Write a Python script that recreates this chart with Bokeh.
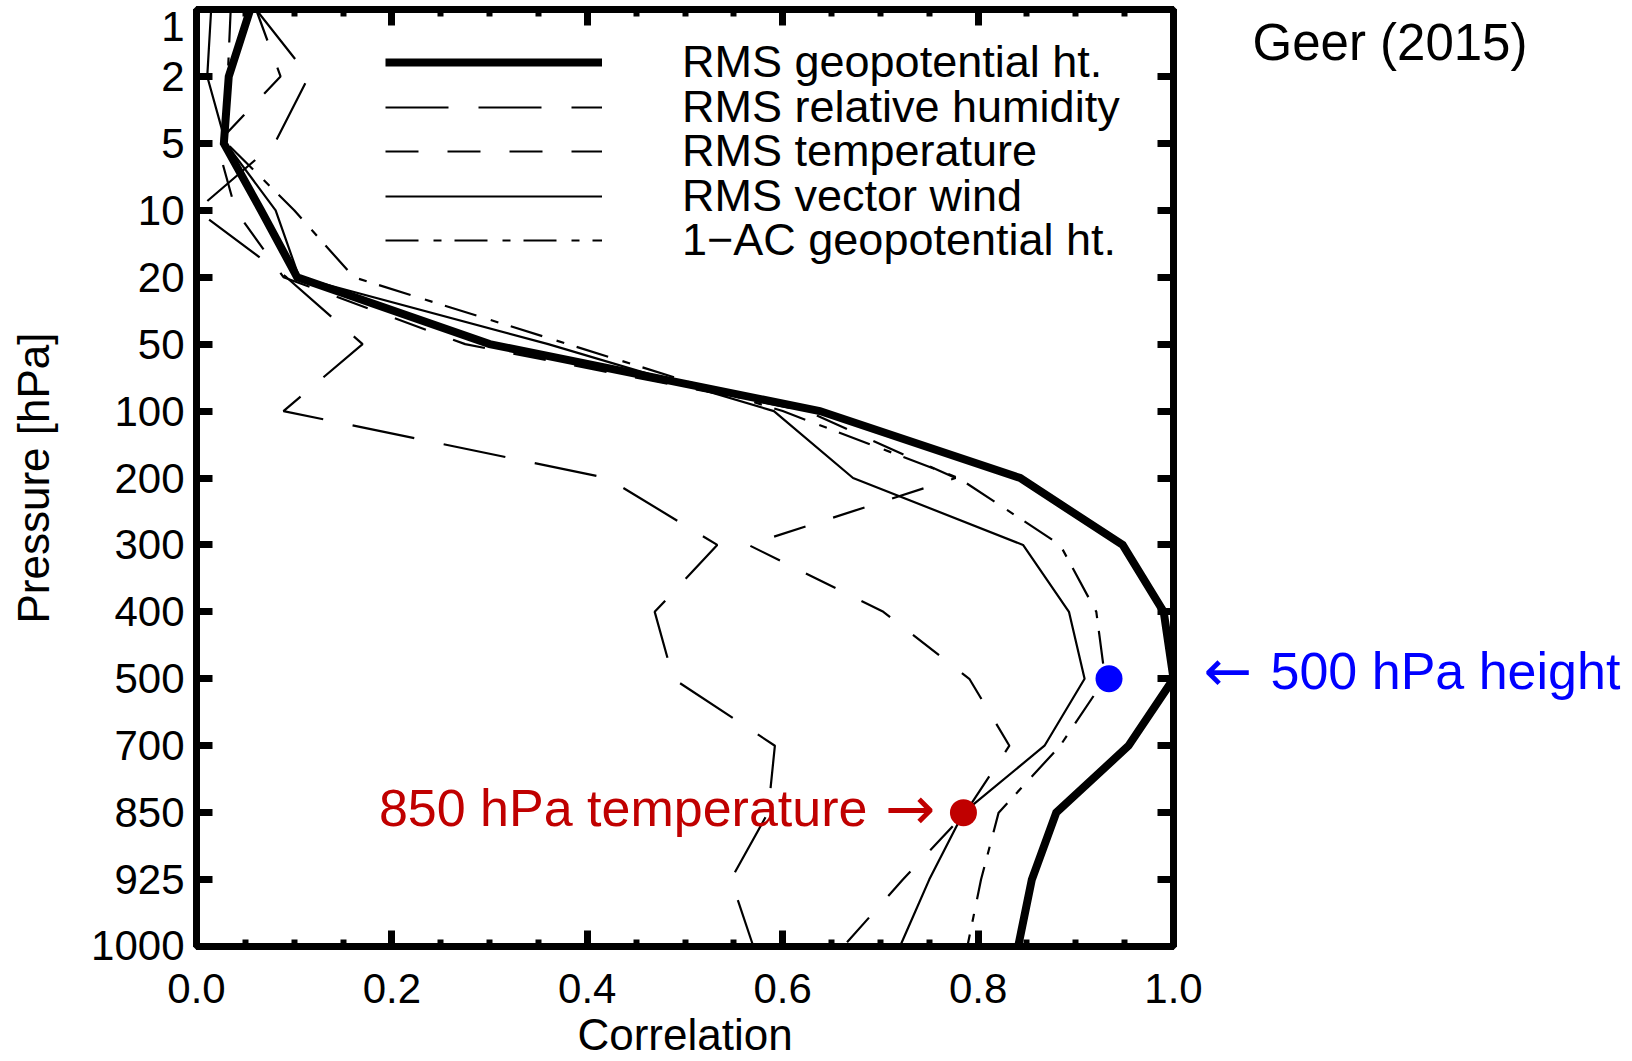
from bokeh.plotting import figure
from bokeh.layouts import row
from bokeh.models import (Range1d, LinearAxis, FixedTicker, SingleIntervalTicker,
                          NumeralTickFormatter, CustomJSTickFormatter, Legend,
                          LegendItem, Label)
from bokeh.core.properties import value
from bokeh.embed import file_html
from bokeh.resources import INLINE

# ---------------- data ----------------
levels = [1, 2, 5, 10, 20, 50, 100, 200, 300, 400, 500, 700, 850, 925, 1000]
level_labels = ["\n1", "2", "5", "10", "20", "50", "100", "200", "300", "400",
                "500", "700", "850", "925", "1000\n"]

rms_geopotential = [0.055, 0.033, 0.028, 0.066, 0.103, 0.300, 0.638, 0.843,
                    0.948, 0.990, 1.000, 0.954, 0.880, 0.855, 0.841]
rms_humidity = [0.061, 0.115, 0.080, 0.000, 0.092, 0.170, 0.089, 0.420,
                0.533, 0.469, 0.488, 0.592, 0.585, 0.547, 0.570]
rms_temperature = [0.061, 0.086, 0.021, 0.040, 0.089, 0.275, 0.625, 0.777,
                   0.565, 0.703, 0.791, 0.832, 0.787, 0.723, 0.662]
rms_vector_wind = [0.015, 0.011, 0.030, 0.081, 0.105, 0.360, 0.591, 0.672,
                   0.846, 0.893, 0.909, 0.868, 0.785, 0.750, 0.720]
ac_geopotential = [0.035, 0.032, 0.031, 0.100, 0.161, 0.380, 0.600, 0.780,
                   0.884, 0.921, 0.930, 0.884, 0.821, 0.803, 0.789]

series_names = ["RMS geopotential ht.", "RMS relative humidity", "RMS temperature",
                "RMS vector wind", "1\u2212AC geopotential ht."]

highlight_x = [0.934, 0.785]
highlight_levels = [500, 850]
highlight_colors = ["#0000FF", "#C00000"]

x_ticks_interval = 0.2
source_note = "Geer (2015)"

# ---------------- main figure ----------------
ypos = list(range(len(levels)))
lvl_index = {lv: i for i, lv in enumerate(levels)}

FONT = "Liberation Sans, Arial, sans-serif"
ARROW_FONT = "DejaVu Sans"
TOP, BOTTOM = 9, 115
MAIN_W = 1205
FRAME_H = 1061 - TOP - BOTTOM

p = figure(width=MAIN_W, height=1061, x_range=Range1d(0, 1),
           y_range=Range1d(len(levels) - 1, 0),
           output_backend="svg", toolbar_location=None,
           min_border_left=196, min_border_right=MAIN_W - 1173,
           min_border_top=TOP, min_border_bottom=BOTTOM)
p.xgrid.visible = False
p.ygrid.visible = False
p.outline_line_color = "black"
p.outline_line_width = 7
p.background_fill_color = "white"
p.border_fill_color = "white"

styles = [
    dict(line_width=8, line_dash="solid", line_join="miter"),
    dict(line_width=2.2, line_dash="63 30"),
    dict(line_width=2.2, line_dash="33 29"),
    dict(line_width=2.2, line_dash="solid"),
    dict(line_width=2.2, line_dash="33 15 8 13"),
]
all_series = [rms_geopotential, rms_humidity, rms_temperature, rms_vector_wind, ac_geopotential]

renderers = []
for vals, st in zip(all_series, styles):
    r = p.line(vals, ypos, line_color="black", **st)
    renderers.append(r)

p.scatter(highlight_x, [lvl_index[v] for v in highlight_levels], size=27,
          fill_color=highlight_colors, line_color=None)

# ---------------- axes ----------------
def style_axis(ax):
    ax.axis_line_width = 7
    ax.axis_line_color = "black"
    ax.major_tick_in = 16
    ax.major_tick_out = 0
    ax.major_tick_line_width = 7
    ax.minor_tick_in = 7
    ax.minor_tick_out = 0
    ax.minor_tick_line_width = 6
    ax.major_label_text_font = FONT
    ax.major_label_text_font_size = "42px"
    ax.major_label_text_color = "black"
    ax.axis_label_text_font = FONT
    ax.axis_label_text_font_size = "44px"
    ax.axis_label_text_font_style = "normal"
    ax.axis_label_text_color = "black"

xax = p.xaxis[0]
xax.ticker = SingleIntervalTicker(interval=x_ticks_interval, num_minor_ticks=4)
xax.formatter = NumeralTickFormatter(format="0.0")
xax.axis_label = "Correlation"
style_axis(xax)
xax.major_label_standoff = 27
xax.axis_label_standoff = 4

yax = p.yaxis[0]
yax.ticker = FixedTicker(ticks=ypos, minor_ticks=[])
yax.major_label_overrides = {i: lab for i, lab in enumerate(level_labels)}
yax.axis_label = "Pressure [hPa]"
style_axis(yax)
yax.major_label_text_line_height = 0.05
yax.major_label_standoff = 12
yax.axis_label_standoff = 30

blank = CustomJSTickFormatter(code="return ''")
top = LinearAxis(ticker=SingleIntervalTicker(interval=x_ticks_interval, num_minor_ticks=4),
                 formatter=blank)
style_axis(top)
top.major_label_text_font_size = "1px"
top.major_label_standoff = 0
p.add_layout(top, "above")

right = LinearAxis(ticker=FixedTicker(ticks=ypos, minor_ticks=[]), formatter=blank)
style_axis(right)
right.major_label_text_font_size = "1px"
right.major_label_standoff = 0
p.add_layout(right, "right")

# ---------------- legend (one entry per row, rows 44.5 px apart) ----------------
LEG_ROW0, LEG_STEP, LEG_H = 53, 44.5, 52
for i, (n, r) in enumerate(zip(series_names, renderers)):
    y_loc = FRAME_H - (LEG_ROW0 + LEG_STEP * i + LEG_H / 2)
    lg = Legend(items=[LegendItem(label=n, renderers=[r])],
                location=(189, y_loc), orientation="vertical",
                glyph_width=217, glyph_height=LEG_H, label_height=LEG_H, spacing=0,
                padding=0, margin=0, label_standoff=80,
                label_text_font=FONT, label_text_font_size="45px",
                label_text_color="black",
                border_line_color=None, background_fill_alpha=0)
    p.add_layout(lg)

# ---------------- annotation inside the frame ----------------
p.add_layout(Label(x=highlight_x[1], y=lvl_index[850], x_offset=-96, y_offset=5,
                   text="850 hPa temperature", text_color="#C00000",
                   text_font=FONT, text_font_size="52px",
                   text_align="right", text_baseline="middle"))
p.add_layout(Label(x=highlight_x[1], y=lvl_index[850], x_offset=-28, y_offset=5,
                   text="\u2192", text_color="#C00000",
                   text_font=ARROW_FONT, text_font_size="60px",
                   text_align="right", text_baseline="middle"))

# ---------------- right-hand margin (texts beside the frame) ----------------
SIDE_W = 1632 - MAIN_W
side = figure(width=SIDE_W, height=1061, x_range=Range1d(0, SIDE_W), y_range=p.y_range,
              output_backend="svg", toolbar_location=None,
              x_axis_location=None, y_axis_location=None,
              min_border_left=0, min_border_right=0,
              min_border_top=TOP, min_border_bottom=BOTTOM)
side.xgrid.visible = False
side.ygrid.visible = False
side.outline_line_color = None
side.background_fill_color = "white"
side.border_fill_color = "white"

side.text(x=[1203 - MAIN_W], y=[lvl_index[500]], text=["\u2190"], y_offset=-8,
          text_font=value(ARROW_FONT), text_font_size="58px", text_color="#0000FF",
          text_align="left", text_baseline="middle")
side.text(x=[1270 - MAIN_W], y=[lvl_index[500]], text=["500 hPa height"], y_offset=-8,
          text_font=value(FONT), text_font_size="52px", text_color="#0000FF",
          text_align="left", text_baseline="middle")
side.text(x=[1252 - MAIN_W], y=[0.49], text=[source_note],
          text_font=value(FONT), text_font_size="51px", text_color="black",
          text_align="left", text_baseline="middle")

open("out.html", "w").write(file_html(row(p, side), INLINE))
